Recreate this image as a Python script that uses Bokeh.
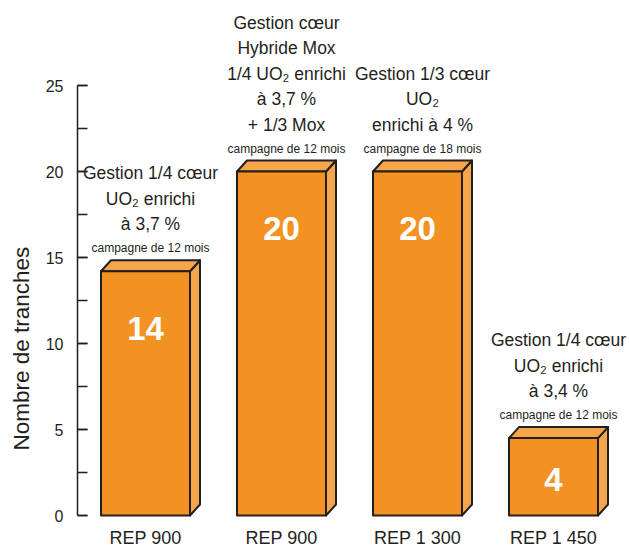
from bokeh.plotting import figure
from bokeh.models import (ColumnDataSource, Range1d, LinearAxis, SingleIntervalTicker, Title)
from bokeh.core.properties import value
from bokeh.embed import file_html
from bokeh.resources import INLINE

# ---- data ----
categories = ["REP 900", "REP 900", "REP 1 300", "REP 1 450"]
values = [14, 20, 20, 4]                 # printed numbers
bar_heights = [14.2, 20.0, 20.0, 4.5]    # heights as drawn
descriptions = [
    ["Gestion 1/4 cœur", "UO₂ enrichi", "à 3,7 %"],
    ["Gestion cœur", "Hybride Mox", "1/4 UO₂ enrichi", "à 3,7 %", "+ 1/3 Mox"],
    ["Gestion 1/3 cœur", "UO₂", "enrichi à 4 %"],
    ["Gestion 1/4 cœur", "UO₂ enrichi", "à 3,4 %"],
]
campaigns = ["campagne de 12 mois", "campagne de 12 mois",
             "campagne de 18 mois", "campagne de 12 mois"]
y_label = "Nombre de tranches"

# ---- style ----
FONT = "Liberation Sans"
FRONT = "#F29222"
LIGHT = "#F6A64A"
EDGE = "#231F20"

W, H = 629, 547
LEFT = 77
PX_X = 136.0                # px per category
PX_Y = 17.2                 # px per unit
Y0 = 515                    # canvas y of value 0
x_end = -0.5 + (W - LEFT) / PX_X
y_end = Y0 / PX_Y
y_start = -(H - Y0) / PX_Y

p = figure(width=W, height=H, output_backend="svg", toolbar_location=None,
           x_range=Range1d(-0.5, x_end), y_range=Range1d(y_start, y_end),
           x_axis_type=None, y_axis_type=None,
           min_border_left=LEFT, min_border_right=0, min_border_top=0, min_border_bottom=0)
p.outline_line_color = None
p.background_fill_color = "white"
p.border_fill_color = "white"

yaxis = LinearAxis(ticker=SingleIntervalTicker(interval=5, num_minor_ticks=2), bounds=(0, 25))
yaxis.axis_line_color = EDGE
yaxis.axis_line_width = 1.5
yaxis.major_tick_in = 10
yaxis.major_tick_out = 0
yaxis.minor_tick_in = 10
yaxis.minor_tick_out = 0
yaxis.major_tick_line_color = EDGE
yaxis.minor_tick_line_color = EDGE
yaxis.major_tick_line_width = 1.5
yaxis.minor_tick_line_width = 1.5
yaxis.major_label_standoff = 14
yaxis.major_label_text_font = FONT
yaxis.major_label_text_font_size = "16px"
yaxis.major_label_text_color = EDGE
p.add_layout(yaxis, "left")

p.add_layout(Title(text=y_label, align="left", offset=97, text_font=FONT,
                   text_font_size="22.5px", text_font_style="normal",
                   vertical_align="top",
                   text_color=EDGE, standoff=13), "left")

# bars (3D look)
bw = 89 / PX_X
dx = 10 / PX_X
dy = 11 / PX_Y
xs = list(range(len(categories)))
lefts = [x - bw / 2 for x in xs]
rights = [x + bw / 2 for x in xs]

side_x, side_y, top_x, top_y = [], [], [], []
for l, r, h in zip(lefts, rights, bar_heights):
    side_x.append([r, r + dx, r + dx, r])
    side_y.append([0, dy, h + dy, h])
    top_x.append([l, l + dx, r + dx, r])
    top_y.append([h, h + dy, h + dy, h])

p.patches(side_x, side_y, fill_color=LIGHT, line_color=EDGE, line_width=2, line_join="round")
p.patches(top_x, top_y, fill_color=LIGHT, line_color=EDGE, line_width=2, line_join="round")
p.quad(left=lefts, right=rights, bottom=0, top=bar_heights,
       fill_color=FRONT, line_color=EDGE, line_width=2, line_join="round")

# value labels inside bars
num_off = [min(57, h * PX_Y / 2 + 3) for h in bar_heights]
p.text(x=xs, y=bar_heights, text=[str(v) for v in values], y_offset=num_off,
       text_font=value(FONT), text_font_style="bold", text_font_size="33px",
       text_color="white", text_align="center", text_baseline="middle")

# category labels
p.text(x=xs, y=[0] * 4, text=categories, y_offset=22,
       text_font=value(FONT), text_font_size="18px", text_color=EDGE,
       text_align="center", text_baseline="alphabetic")

# annotations
ax, ay, at, aoff = [], [], [], []
for i, lines in enumerate(descriptions):
    n = len(lines)
    for k, line in enumerate(lines):
        ax.append(xs[i])
        ay.append(bar_heights[i])
        at.append(line)
        aoff.append(-47 - 25.5 * (n - 1 - k))
src = ColumnDataSource(dict(x=ax, y=ay, t=at, off=aoff))
p.text(x="x", y="y", text="t", y_offset="off", x_offset=5, source=src,
       text_font=value(FONT), text_font_size="17.5px", text_color=EDGE,
       text_align="center", text_baseline="alphabetic")

p.text(x=xs, y=bar_heights, text=campaigns, y_offset=-23, x_offset=5,
       text_font=value(FONT), text_font_size="12px", text_color=EDGE,
       text_align="center", text_baseline="alphabetic")

open("out.html", "w").write(file_html(p, INLINE))
